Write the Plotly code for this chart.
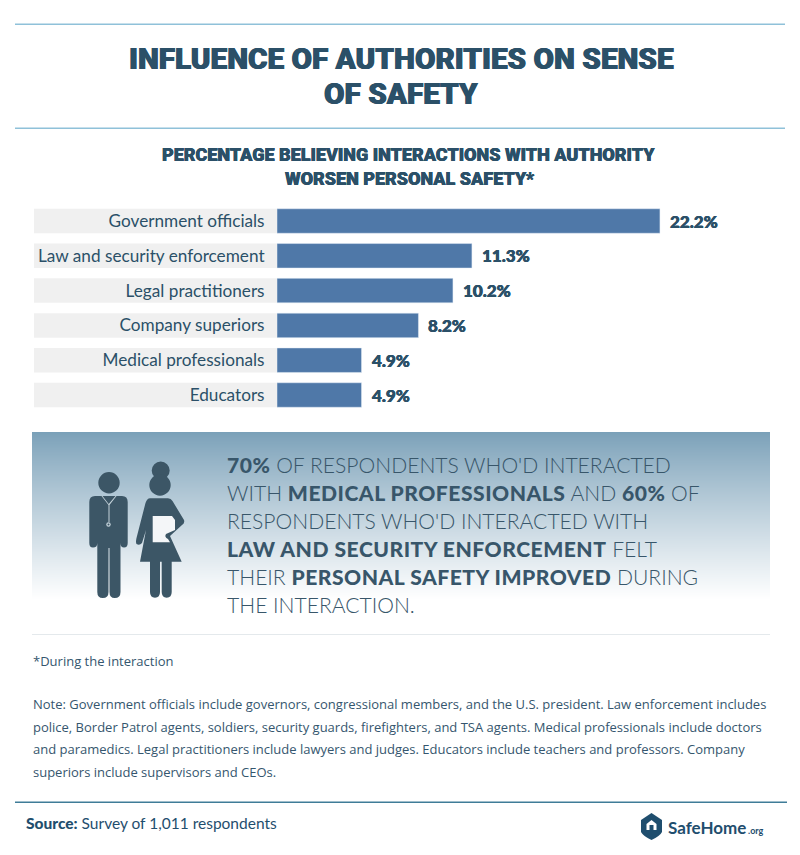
import plotly.graph_objects as go

#The page keeps an 8px body margin, so the figure is sized and offset for it
PAGE = 8
W = 784
H = 839

#Chart data
categories = ["Government officials", "Law and security enforcement", "Legal practitioners",
              "Company superiors", "Medical professionals", "Educators"]
percent = [22.2, 11.3, 10.2, 8.2, 4.9, 4.9]
percent_labels = ["22.2%", "11.3%", "10.2%", "8.2%", "4.9%", "4.9%"]

title_lines = ["INFLUENCE OF AUTHORITIES ON SENSE", "OF SAFETY"]
subtitle_lines = ["PERCENTAGE BELIEVING INTERACTIONS WITH AUTHORITY", "WORSEN PERSONAL SAFETY*"]
callout_lines = ["<b>70%</b> OF RESPONDENTS WHO'D INTERACTED",
                 "WITH <b>MEDICAL PROFESSIONALS</b> AND <b>60%</b> OF",
                 "RESPONDENTS WHO'D INTERACTED WITH",
                 "<b>LAW AND SECURITY ENFORCEMENT</b> FELT",
                 "THEIR <b>PERSONAL SAFETY IMPROVED</b> DURING",
                 "THE INTERACTION."]
note_lines = ["Note: Government officials include governors, congressional members, and the U.S. president. Law enforcement includes",
              "police, Border Patrol agents, soldiers, security guards, firefighters, and TSA agents. Medical professionals include doctors",
              "and paramedics. Legal practitioners include lawyers and judges. Educators include teachers and professors. Company",
              "superiors include supervisors and CEOs."]

DARK = "#2b5068"
BAR = "#4f78a8"
GREY = "#f0f0f0"
LINE = "#8fc1d9"
ICON = "#3c5666"
NOTE_COLOR = "#35566e"
SANS = "Lato"
NOTE = "Open Sans"


#Pixel positions to paper positions
def px(x):
    return (x - PAGE) / W


def py(y):
    return 1 - (y - PAGE) / H


def to_path(s):
    out = []
    is_x = True
    for tok in s.split():
        if tok.isalpha():
            out.append(tok)
            is_x = True
        else:
            out.append(str(px(float(tok))) if is_x else str(py(float(tok))))
            is_x = not is_x
    return " ".join(out)


def thick(color, d):
    return "%spx 0 0 %s, -%spx 0 0 %s" % (d, color, d, color)


#Heavier than plain <b>
def heavy(s, spacing=0.5):
    return s.replace("<b>", '<span style="font-weight:900;letter-spacing:%spx">' % spacing).replace("</b>", "</span>")


shapes = []
annotations = []


def rect(x0, y0, x1, y1, color):
    shapes.append(dict(type="rect", xref="paper", yref="paper", x0=px(x0), x1=px(x1), y0=py(y0), y1=py(y1),
                       fillcolor=color, line_width=0, layer="below"))


def circle(cx, cy, r, color):
    shapes.append(dict(type="circle", xref="paper", yref="paper", x0=px(cx - r), x1=px(cx + r), y0=py(cy - r), y1=py(cy + r),
                       fillcolor=color, line_width=0, layer="above"))


def path(s, color):
    shapes.append(dict(type="path", xref="paper", yref="paper", path=to_path(s), fillcolor=color, line_width=0, layer="above"))


def text(x, y, s, size, color=DARK, anchor="left", family=SANS, weight=None, shadow=None):
    font = dict(family=family, size=size, color=color, weight=weight)
    if shadow:
        font["shadow"] = thick(color, shadow)
    annotations.append(dict(xref="paper", yref="paper", x=px(x), y=py(y), text=s, showarrow=False, xanchor=anchor,
                            yanchor="middle", align=anchor, font=font))


#Rules
rect(15, 23.5, 785, 25, LINE)
rect(15, 127.5, 785, 129, LINE)
rect(32, 634, 770, 635, "#e4e9ec")
rect(15, 801.5, 787, 803, "#3f7c98")

#Gradient panel, one strip per pixel
top = (122, 160, 184)
for i in range(168):
    t = (i / 167) ** 0.9
    c = [round(a + (255 - a) * t) for a in top]
    rect(32, 432 + i, 770, 433 + i, "rgb(%d,%d,%d)" % tuple(c))

#Grey bands behind the labels
for i in range(len(categories)):
    shapes.append(dict(type="rect", xref="paper", yref="y", x0=px(34), x1=px(277), y0=i - 0.352, y1=i + 0.352,
                       fillcolor=GREY, line_width=0, layer="below"))

#Man icon
circle(109, 482.7, 10.7, ICON)
path("M 95 496 L 122 496 Q 127.7 496 127.7 502 L 127.7 543 Q 127.7 547.5 124 547.5 Q 120.5 547.5 120.5 543 "
     "L 120.5 592 Q 120.5 598 114.7 598 Q 109.5 598 109.5 592 L 109.5 548 L 108.5 548 L 108.5 592 "
     "Q 108.5 598 102.8 598 Q 97.3 598 97.3 592 L 97.3 543 Q 97.3 547.5 93 547.5 Q 89.3 547.5 89.3 543 "
     "L 89.3 502 Q 89.3 496 95 496 Z", ICON)
path("M 101.5 496 L 102.5 496 L 108.7 504 L 115.5 496 L 116.5 496 L 109.5 505 L 109.5 522 L 108.5 522 L 108.5 505 Z", "#c4d2da")
circle(108.5, 524.5, 2.2, "#c4d2da")
circle(108.5, 524.5, 1, ICON)

#Woman icon
circle(160.7, 470.5, 9, ICON)
circle(160, 485, 10.7, ICON)
path("M 150 498.3 L 168 498.3 Q 171 498.3 172.5 501 L 184 520 Q 185 523 182 525 L 170 536 L 181.7 561.7 "
     "L 171.7 561.7 L 171.7 592 Q 171.7 597.7 166.7 597.7 Q 161.7 597.7 161.7 592 L 161.7 561.7 L 160 561.7 "
     "L 160 592 Q 160 597.7 155 597.7 Q 150 597.7 150 592 L 150 561.7 L 140 561.7 L 146 530 L 142 543 "
     "Q 139.5 546 136.5 544 Q 135.5 542 136.5 538 L 145.5 503 Q 147 498.3 150 498.3 Z", ICON)
path("M 152.7 516 L 172 516 L 175 520 L 175 530 L 166 534 Q 164 537 168 539 L 170 542.3 L 152.7 542.3 Z", "#f4f6f8")

#Logo
path("M 651.5 813 L 662 820 L 662 832 Q 660 836 651.5 840 Q 643 836 641 832 L 641 820 Z", "#1f4e6e")
path("M 646.5 824 L 651.5 820 L 656.5 824 L 656.5 830 L 646.5 830 Z", "#ffffff")
path("M 649.5 825 L 653.5 825 L 653.5 830 L 649.5 830 Z", "#1f4e6e")

#Titles
text(401, 59, title_lines[0], 29.7, anchor="center", family="Roboto", weight=900, shadow=0.5)
text(401, 93, title_lines[1], 29.7, anchor="center", family="Roboto", weight=900, shadow=0.5)
text(408, 155, subtitle_lines[0], 18, anchor="center", family="Roboto", weight=900, shadow=0.3)
text(410, 178, subtitle_lines[1], 18, anchor="center", family="Roboto", weight=900, shadow=0.3)

#Callout
for i, line in enumerate(callout_lines):
    text(225, 464 + i * 28, heavy(line), 21.1, color="#38566a", weight=300)

#Notes
text(31, 661, "*During the interaction", 13, color=NOTE_COLOR, family=NOTE)
for i, line in enumerate(note_lines):
    text(31, 704 + i * 22.7, line, 13, color=NOTE_COLOR, family=NOTE)

#Footer
text(24, 823, heavy("<b>Source:</b> Survey of 1,011 respondents", 0), 15.5, color="#1f4e6e")
text(666, 827, "<b>SafeHome</b>", 17, color="#1f4e6e")
text(746, 830, "<b>.org</b>", 9, color="#1f4e6e")

#Value labels
for cat, val, lab in zip(categories, percent, percent_labels):
    annotations.append(dict(xref="x", yref="y", x=val, y=cat, text=lab, showarrow=False, xanchor="left", yanchor="middle",
                            xshift=8, font=dict(family=SANS, size=17, color=DARK, weight=900, shadow=thick(DARK, 0.3))))

fig = go.Figure(go.Bar(y=categories, x=percent, orientation="h", marker_color=BAR, width=0.704))

fig.update_layout(width=W, height=H, margin=dict(l=0, r=0, t=0, b=0), autosize=False,
                  paper_bgcolor="white", plot_bgcolor="rgba(0,0,0,0)", showlegend=False,
                  shapes=shapes, annotations=annotations)
fig.update_xaxes(domain=[px(277), 1], range=[0, (W + PAGE - 277) / 17.25], visible=False, fixedrange=True)
fig.update_yaxes(domain=[py(412.4), py(203.6)], range=[5.5, -0.5], showgrid=False, showline=False,
                 ticks="outside", ticklen=8, tickcolor="rgba(0,0,0,0)", fixedrange=True,
                 tickfont=dict(family=SANS, size=17.2, color=DARK))

fig.write_html("out.html")
